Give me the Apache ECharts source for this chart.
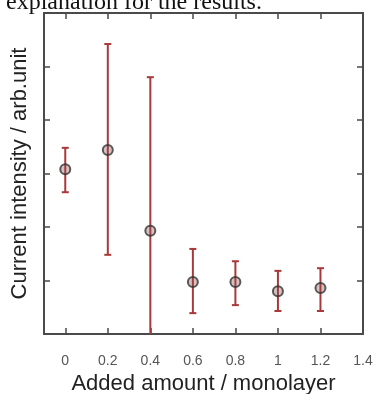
<!DOCTYPE html>
<html>
<head>
<meta charset="utf-8">
<script src="https://cdn.jsdelivr.net/npm/echarts@6/dist/echarts.min.js"></script>
<style>
html,body{margin:0;padding:0;background:#fff;}
#c{width:374px;height:394px;}
</style>
</head>
<body>
<div id="c"></div>
<script>
// Data
var xValues = [0, 0.2, 0.4, 0.6, 0.8, 1.0, 1.2];
var yValues = [3.08, 3.44, 1.93, 0.97, 0.97, 0.80, 0.86];
var errLow  = [2.65, 1.48, -0.94, 0.39, 0.54, 0.43, 0.43];
var errHigh = [3.48, 5.42, 4.80, 1.59, 1.36, 1.18, 1.23];
var xTickValues = [0, 0.2, 0.4, 0.6, 0.8, 1.0, 1.2, 1.4];
var xTickLabels = ['0', '0.2', '0.4', '0.6', '0.8', '1', '1.2', '1.4'];
var xLabel = 'Added amount / monolayer';
var yLabel = 'Current intensity / arb.unit';
var caption = 'explanation for the results.';

var chart = echarts.init(document.getElementById('c'), null, {renderer: 'canvas'});

var points = xValues.map(function (x, i) { return [x, yValues[i]]; });
var bars = xValues.map(function (x, i) { return [x, errLow[i], errHigh[i]]; });

var frameColor = '#4a4a4a';
var errColor = '#a8383a';
var labelMap = {};
xTickValues.forEach(function (v, i) { labelMap[v.toFixed(1)] = xTickLabels[i]; });

function axisBase(extra) {
  var o = {
    axisLine: {show: true, onZero: false, lineStyle: {color: frameColor, width: 2}},
    axisTick: {show: true, inside: true, length: 6, lineStyle: {color: frameColor, width: 1.5}},
    splitLine: {show: false},
    axisLabel: {show: false}
  };
  for (var k in extra) o[k] = extra[k];
  return o;
}

var option = {
  animation: false,
  backgroundColor: '#ffffff',
  grid: {left: 44, right: 11, top: 13, bottom: 60, containLabel: false, outerBoundsMode: 'none'},
  graphic: [{
    type: 'text',
    left: 6,
    top: -9,
    style: {
      text: caption,
      font: '24px "Liberation Serif", "DejaVu Serif", serif',
      fill: '#111'
    }
  }],
  xAxis: [
    axisBase({
      type: 'value', position: 'bottom', min: -0.1, max: 1.4,
      name: xLabel, nameLocation: 'middle', nameGap: 39,
      nameTextStyle: {fontFamily: 'Liberation Sans', fontSize: 22, color: '#222'},
      axisTick: {show: true, inside: true, length: 6, customValues: xTickValues, lineStyle: {color: frameColor, width: 1.5}},
      axisLabel: {
        show: true, customValues: xTickValues, margin: 20,
        fontFamily: 'Liberation Sans', fontSize: 14, color: '#555',
        formatter: function (v) { return labelMap[(+v).toFixed(1)]; }
      }
    }),
    axisBase({
      type: 'value', position: 'top', min: -0.1, max: 1.4,
      axisTick: {show: true, inside: true, length: 6, customValues: xTickValues, lineStyle: {color: frameColor, width: 1.5}}
    })
  ],
  yAxis: [
    axisBase({
      type: 'value', position: 'left', min: 0, max: 6, interval: 1,
      name: yLabel, nameLocation: 'middle', nameGap: 13, nameRotate: 90,
      nameTextStyle: {fontFamily: 'Liberation Sans', fontSize: 22, color: '#222'}
    }),
    axisBase({type: 'value', position: 'right', min: 0, max: 6, interval: 1})
  ],
  series: [
    {
      type: 'custom',
      xAxisIndex: 0, yAxisIndex: 0,
      clip: true,
      data: bars,
      renderItem: function (params, api) {
        var x = api.value(0);
        var lo = api.coord([x, api.value(1)]);
        var hi = api.coord([x, api.value(2)]);
        var cap = 3.5;
        var st = {stroke: errColor, lineWidth: 2};
        return {
          type: 'group',
          children: [
            {type: 'line', shape: {x1: lo[0], y1: lo[1], x2: hi[0], y2: hi[1]}, style: st},
            {type: 'line', shape: {x1: hi[0] - cap, y1: hi[1], x2: hi[0] + cap, y2: hi[1]}, style: st},
            {type: 'line', shape: {x1: lo[0] - cap, y1: lo[1], x2: lo[0] + cap, y2: lo[1]}, style: st}
          ]
        };
      }
    },
    {
      type: 'scatter',
      xAxisIndex: 0, yAxisIndex: 0,
      data: points,
      symbol: 'circle',
      symbolSize: 10,
      itemStyle: {color: 'rgba(140,80,80,0.45)', borderColor: '#333', borderWidth: 2}
    }
  ]
};
chart.setOption(option);
</script>
</body>
</html>
